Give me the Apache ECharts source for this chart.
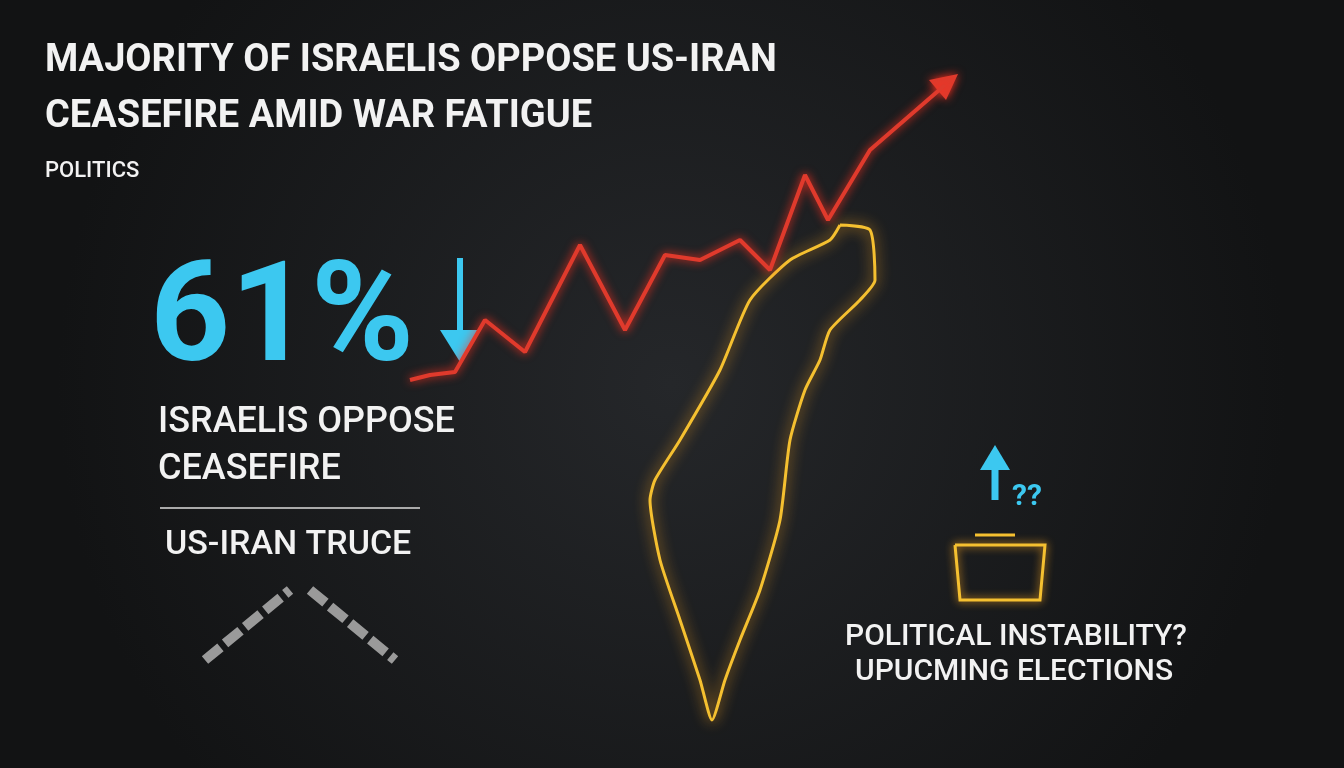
<!DOCTYPE html>
<html><head><meta charset="utf-8">
<script src="https://cdn.jsdelivr.net/npm/echarts@6/dist/echarts.min.js"></script>
<style>html,body{margin:0;background:#1b1c1e}#main{width:1344px;height:768px}</style>
</head><body><div id="main"></div>
<script>
// trend line (read in picture pixels)
var trendX = [410,430,455,485,525,580,625,665,700,740,770,805,828,870,945];
var trendY = [380,375,372,320,352,245,330,255,260,240,270,175,220,150,85];
// rough map outline
var mapX = [840,870,875,860,830,820,805,790,780,760,740,725,712,700,680,660,650,655,680,720,750,790,830,840];
var mapY = [225,230,280,300,330,360,390,440,520,590,640,680,720,680,620,560,500,480,440,370,300,260,240,225];

function pts(xs, ys){ var o=[]; for(var i=0;i<xs.length;i++){o.push([xs[i],ys[i]]);} return o; }
var font = '"Liberation Sans Narrow","Roboto",sans-serif';

var chart = echarts.init(document.getElementById("main"));
var option = {
  backgroundColor: {type:'radial',x:0.5,y:0.5,r:0.8,colorStops:[{offset:0,color:'#25272a'},{offset:1,color:'#121314'}]},
  grid: {left:0,right:0,top:0,bottom:0},
  xAxis: {type:'value',min:0,max:1344,show:false},
  yAxis: {type:'value',min:0,max:768,inverse:true,show:false},
  series: [{
    type:'line', data: pts(mapX,mapY), symbol:'none', smooth:0.2,
    lineStyle:{color:'#f5c030',width:3,shadowColor:'#f0a020',shadowBlur:14}
  },{
    type:'line', data: pts(trendX,trendY), symbol:'none', showSymbol:false,
    itemStyle:{color:'#e03a2c'},
    lineStyle:{color:'#e03a2c',width:4,shadowColor:'#ff3020',shadowBlur:10}
  }],
  graphic: [
    {type:'polygon',shape:{points:[[958,74],[946,100],[929,80]]},style:{fill:'#e03a2c',shadowColor:'#ff3020',shadowBlur:10}},
    {type:'text',left:45,top:42,style:{text:'MAJORITY OF ISRAELIS OPPOSE US-IRAN',fill:'#f2f2f2',font:'bold 38px '+font}},
    {type:'text',left:45,top:98,style:{text:'CEASEFIRE AMID WAR FATIGUE',fill:'#f2f2f2',font:'bold 38px '+font}},
    {type:'text',left:45,top:160,style:{text:'POLITICS',fill:'#f2f2f2',font:'500 22px '+font}},
    {type:'text',left:150,top:255,style:{text:'61%',fill:'#3cc8f0',font:'bold 140px '+font,shadowColor:'#20a0ff',shadowBlur:16}},
    {type:'line',shape:{x1:460,y1:258,x2:460,y2:350},style:{stroke:'#3cc8f0',lineWidth:6}},
    {type:'polygon',shape:{points:[[440,330],[480,330],[460,362]]},style:{fill:'#3cc8f0'}},
    {type:'text',left:158,top:405,style:{text:'ISRAELIS OPPOSE',fill:'#f2f2f2',font:'500 36px '+font}},
    {type:'text',left:158,top:452,style:{text:'CEASEFIRE',fill:'#f2f2f2',font:'500 36px '+font}},
    {type:'line',shape:{x1:160,y1:508,x2:420,y2:508},style:{stroke:'#aaaaaa',lineWidth:2}},
    {type:'text',left:165,top:528,style:{text:'US-IRAN TRUCE',fill:'#f2f2f2',font:'500 34px '+font}},
    {type:'line',shape:{x1:205,y1:660,x2:290,y2:590},style:{stroke:'#9a9a9a',lineWidth:10,lineDash:[20,6]}},
    {type:'line',shape:{x1:310,y1:590,x2:395,y2:660},style:{stroke:'#9a9a9a',lineWidth:10,lineDash:[20,6]}},
    {type:'polyline',shape:{points:[[955,545],[1045,545],[1040,600],[960,600],[955,545]]},style:{stroke:'#f5c030',lineWidth:3,fill:'none',shadowColor:'#f0a020',shadowBlur:8}},
    {type:'line',shape:{x1:975,y1:535,x2:1015,y2:535},style:{stroke:'#f5c030',lineWidth:3}},
    {type:'line',shape:{x1:995,y1:465,x2:995,y2:500},style:{stroke:'#3cc8f0',lineWidth:7}},
    {type:'polygon',shape:{points:[[980,470],[1010,470],[995,445]]},style:{fill:'#3cc8f0'}},
    {type:'text',left:1012,top:482,style:{text:'??',fill:'#3cc8f0',font:'bold 30px '+font}},
    {type:'text',left:845,top:622,style:{text:'POLITICAL INSTABILITY?',fill:'#f2f2f2',font:'500 30px '+font}},
    {type:'text',left:855,top:657,style:{text:'UPUCMING ELECTIONS',fill:'#f2f2f2',font:'500 30px '+font}}
  ]
};
chart.setOption(option);
</script></body></html>
